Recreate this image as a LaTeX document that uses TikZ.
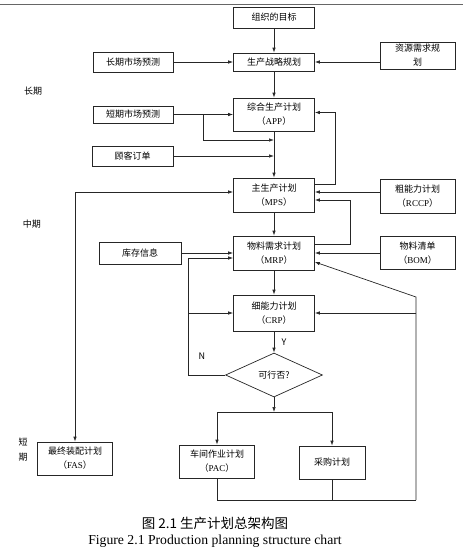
\documentclass[tikz,border=0pt]{standalone}
\usepackage{fontspec}
\setmainfont{Liberation Serif}
\newfontfamily\cjk{Noto Sans CJK SC}
\usetikzlibrary{arrows.meta,shapes.geometric}

% full-width brackets round a Latin abbreviation
\newcommand{\abbr}[1]{{\cjk（}{\rmfamily #1}{\cjk）}}

\tikzset{
	box/.style={draw=black!85, line width=0.7pt, fill=white, align=center, inner sep=0pt,
		font=\cjk\fontsize{9}{14}\selectfont},
	conn/.style={draw=black!85, line width=0.7pt},
	arr/.style={conn, -{Latex[length=5pt,width=3.5pt]}},
	lbl/.style={font=\cjk\fontsize{9}{11}\selectfont},
}

\begin{document}
\begin{tikzpicture}[x=1pt,y=-1pt]
	\useasboundingbox (0,0) rectangle (463,557);
	\draw[black!60, line width=0.6pt] (0,4) -- (463,4);
	
	% boxes
	\node[box, minimum width=81pt, minimum height=21pt] (goal) at (274,17.5) {组织的目标};
	\node[box, minimum width=81pt, minimum height=18pt] (strat) at (274,62) {生产战略规划};
	\node[box, minimum width=80pt, minimum height=20pt] (ltf) at (133,62) {长期市场预测};
	\node[box, minimum width=75pt, minimum height=27pt] (rrp) at (417.5,55.5) {资源需求规\\划};
	\node[box, minimum width=81pt, minimum height=33pt] (app) at (274,114.5) {综合生产计划\\\abbr{APP}};
	\node[box, minimum width=80pt, minimum height=17pt] (stf) at (133,114.5) {短期市场预测};
	\node[box, minimum width=81pt, minimum height=20pt] (order) at (132.5,156) {顾客订单};
	\node[box, minimum width=81pt, minimum height=34pt] (mps) at (274,195) {主生产计划\\\abbr{MPS}};
	\node[box, minimum width=75pt, minimum height=34pt] (rccp) at (417.5,196) {粗能力计划\\\abbr{RCCP}};
	\node[box, minimum width=81pt, minimum height=34pt] (mrp) at (274,253) {物料需求计划\\\abbr{MRP}};
	\node[box, line width=0.9pt, minimum width=82pt, minimum height=22pt] (inv) at (140,253) {库存信息};
	\node[box, minimum width=75pt, minimum height=33pt] (bom) at (417.5,253) {物料清单\\\abbr{BOM}};
	\node[box, minimum width=81pt, minimum height=36pt] (crp) at (274,313) {细能力计划\\\abbr{CRP}};
	\node[box, shape=diamond, minimum width=97pt, minimum height=44pt] (dia) at (274,375) {可行否?};
	\node[box, minimum width=75pt, minimum height=33pt] (pac) at (217,461.5) {车间作业计划\\\abbr{PAC}};
	\node[box, minimum width=66pt, minimum height=33pt] (buy) at (332,462.5) {采购计划};
	\node[box, minimum width=75pt, minimum height=33pt] (fas) at (75,458.5) {最终装配计划\\\abbr{FAS}};
	
	% horizon labels
	\node[lbl] (lt) at (33,91) {长期};
	\node[lbl] (mt) at (32,224) {中期};
	\node[lbl, align=center, font=\cjk\fontsize{9}{15}\selectfont] (st) at (23,450) {短\\期};
	
	% points on the lines
	\coordinate (j1) at (203,114.5);
	\coordinate (m1) at (274,140);
	\coordinate (m2) at (274,156);
	\coordinate (m3) at ([yshift=3pt]mps.east);
	\coordinate (n1) at (188,375);
	\coordinate (n2) at (188,313);
	\coordinate (s1) at (274,412);
	\coordinate (r1) at (416,500);
	\coordinate (r2) at (416,297);
	\coordinate (r3) at (416,313);
	
	% long term
	\draw[arr] (goal) -- (strat);
	\draw[arr] (ltf) -- (strat);
	\draw[arr] (rrp.west |- strat) -- (strat);
	\draw[arr] (strat) -- (app);
	\draw[arr] (stf) -- (app);
	\draw[arr] (j1) |- (m1);
	\draw[arr] (app) -- (mps);
	\draw[arr] (order) -- (m2);
	\draw[arr] ([yshift=11pt]mps.east) -- ++(20,0) |- ([yshift=2pt]app.east);
	
	% middle term
	\draw[arr] (rccp.west |- m3) -- (m3);
	\draw[arr] ([yshift=9pt]mrp.east) -- ++(35,0) |- ([yshift=-5pt]mps.east);
	\draw[conn, {Latex[length=5pt,width=3.5pt]}-{Latex[length=5pt,width=3.5pt]}] (m3 -| mps.west) -| (fas.north);
	\draw[arr] (mps) -- (mrp);
	\draw[arr] (inv) -- (mrp);
	\draw[arr] (bom) -- (mrp);
	\draw[arr] (mrp) -- (crp);
	\draw[arr] (crp) -- node[lbl, right, xshift=4pt] (ylab) {Y} (dia);
	\node[lbl] (nlab) at (202,356) {N};
	\draw[arr] (dia.west) -- (n1) |- ([yshift=-5pt]mrp.west);
	\draw[arr] (n2) -- (crp.west);
	
	% short term
	\draw[arr] (dia.south) -- (s1);
	\draw[arr] (s1) -| (pac.north);
	\draw[arr] (s1) -| (buy.north);
	\draw[conn] (pac.south) |- (r1);
	\draw[conn] (buy.south) -- (buy.south |- r1);
	\draw[arr] (r1) -- (r2) -- ([yshift=-9pt]mrp.east);
	\draw[arr] (r3) -- (crp.east);
	
	% caption
	\node[font=\cjk\fontsize{13.5}{15}\selectfont] (cap1) at (215,523) {图 2.1 生产计划总架构图};
	\node[font=\rmfamily\fontsize{13.7}{15}\selectfont] (cap2) at (215,541) {Figure 2.1 Production planning structure chart};
\end{tikzpicture}
\end{document}
